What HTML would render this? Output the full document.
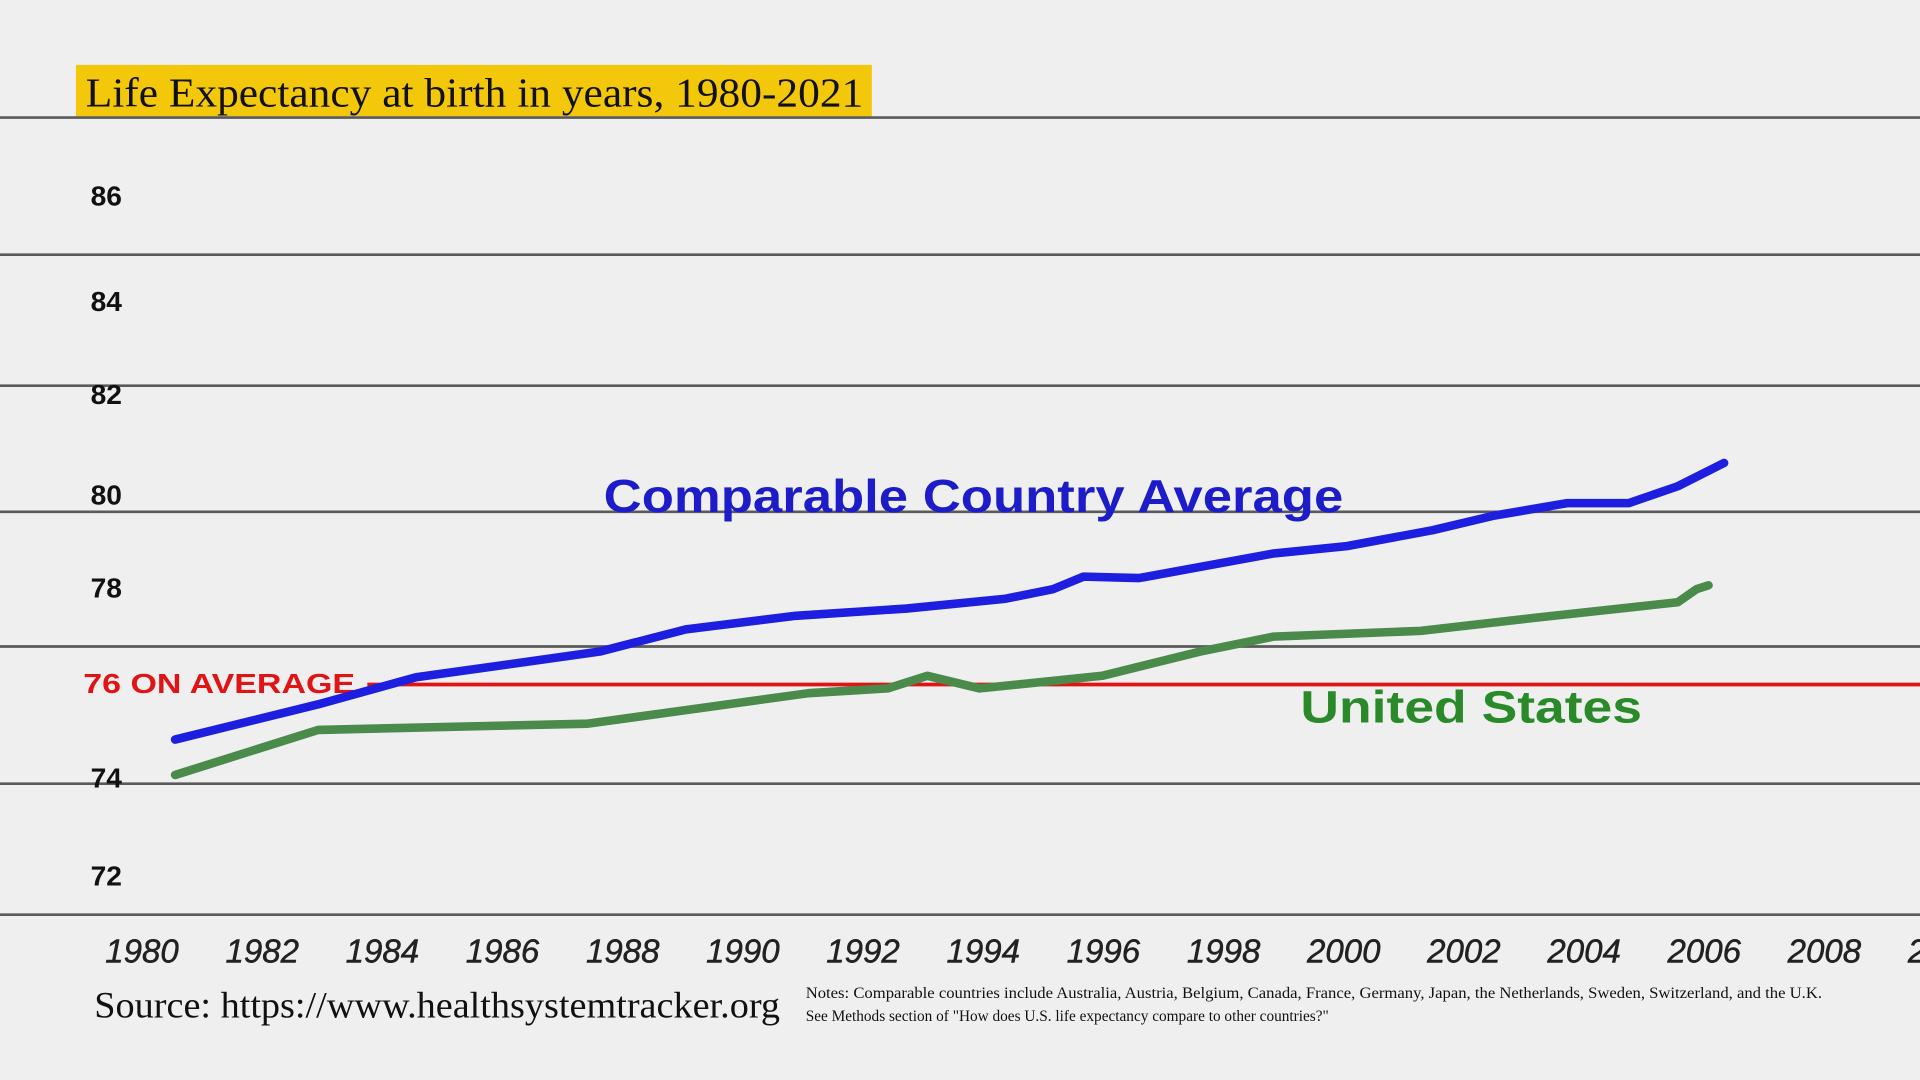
<!DOCTYPE html>
<html><head><meta charset="utf-8">
<style>
html,body{margin:0;padding:0;width:1920px;height:1080px;overflow:hidden;background:#efefef;}
svg{display:block}
</style></head>
<body>
<svg id="chart" width="1920" height="1080" viewBox="0 0 1568 882" preserveAspectRatio="none" xmlns="http://www.w3.org/2000/svg">
<rect x="0" y="0" width="1568" height="882" fill="#efefef"/>
<rect x="62" y="53" width="650" height="42" fill="#f3c70a"/>
<text x="70" y="87" font-family="Liberation Serif, serif" font-size="34" fill="#111" textLength="635" lengthAdjust="spacingAndGlyphs">Life Expectancy at birth in years, 1980-2021</text>
<g id="grid"></g>
<g id="ylabels"></g>
<g id="xlabels"></g>
<line x1="300" y1="559" x2="1568" y2="559" stroke="#e01414" stroke-width="3"/>
<text x="68" y="566" font-family="Liberation Sans, sans-serif" font-weight="bold" font-size="23" fill="#e01414" textLength="222" lengthAdjust="spacingAndGlyphs">76 ON AVERAGE</text>
<g id="series"></g>
<text x="493" y="418" font-family="Liberation Sans, sans-serif" font-weight="bold" font-size="38" fill="#1c1cc8" textLength="604" lengthAdjust="spacingAndGlyphs">Comparable Country Average</text>
<text x="1062" y="590" font-family="Liberation Sans, sans-serif" font-weight="bold" font-size="37" fill="#2a8a2a" textLength="279" lengthAdjust="spacingAndGlyphs">United States</text>
<text x="77" y="831" font-family="Liberation Serif, serif" font-size="30" fill="#111" textLength="560" lengthAdjust="spacingAndGlyphs">Source: https://www.healthsystemtracker.org</text>
<text x="658" y="815" font-family="Liberation Serif, serif" font-size="12.5" fill="#111" textLength="830" lengthAdjust="spacingAndGlyphs">Notes: Comparable countries include Australia, Austria, Belgium, Canada, France, Germany, Japan, the Netherlands, Sweden, Switzerland, and the U.K.</text>
<text x="658" y="834" font-family="Liberation Serif, serif" font-size="12.5" fill="#111">See Methods section of "How does U.S. life expectancy compare to other countries?"</text>
</svg>
<script>
const gridYs = [96, 208, 315, 418, 528, 640, 747];
const yTicks = [86, 84, 82, 80, 78, 74, 72];
const xTicks = [1980,1982,1984,1986,1988,1990,1992,1994,1996,1998,2000,2002,2004,2006,2008,2010];
const ccYears = [1980.55,1982.93,1984.56,1987.62,1989.05,1990.88,1992.72,1994.35,1995.16,1995.67,1996.59,1998.83,2000.05,2001.48,2002.5,2003.72,2004.74,2005.56,2006.33];
const ccValues = [74.86,75.59,76.15,76.68,77.14,77.42,77.57,77.77,77.97,78.23,78.20,78.71,78.86,79.19,79.49,79.75,79.75,80.10,80.58];
const usYears = [1980.55,1982.93,1987.42,1989.05,1991.09,1992.41,1993.07,1993.94,1995.98,1997.61,1998.83,2001.28,2003.11,2005.56,2005.87,2006.07];
const usValues = [74.13,75.06,75.19,75.47,75.82,75.92,76.18,75.92,76.18,76.68,76.99,77.11,77.37,77.70,77.97,78.05];
const yLabelPos = {86:160,84:246,82:322,80:404,78:480,74:635,72:715};

const NS='http://www.w3.org/2000/svg';
function xScale(yr){return 116+(yr-1980)*49.07;}
function yScale(v){return 559-(v-76)*39.5;}
function mk(tag,attrs,parent){const e=document.createElementNS(NS,tag);for(const k in attrs)e.setAttribute(k,attrs[k]);parent.appendChild(e);return e;}

const grid=document.getElementById('grid');
gridYs.forEach(y=>{
  const l=mk('line',{x1:0,x2:1568,y1:y,y2:y,stroke:'#5a5a5a','stroke-width':2.2},grid);
  
  
});
const yl=document.getElementById('ylabels');
yTicks.forEach(v=>{
  const t=mk('text',{x:74,y:yLabelPos[v]+8,'font-family':'Liberation Sans, sans-serif','font-weight':'bold','font-size':23,fill:'#111'},yl);
  t.textContent=v;
  
  
});
const xl=document.getElementById('xlabels');
xTicks.forEach(yr=>{
  const t=mk('text',{x:xScale(yr),y:786,'text-anchor':'middle','font-family':'Liberation Sans, sans-serif','font-style':'italic','font-size':27,fill:'#222','stroke':'#222','stroke-width':0.4},xl);
  t.textContent=yr;
  
  
});
const sg=document.getElementById('series');
function path(xs,vs,color,name){
  const d=xs.map((x,i)=>(i?'L':'M')+xScale(x).toFixed(1)+','+yScale(vs[i]).toFixed(1)).join(' ');
  const p=mk('path',{d:d,fill:'none',stroke:color,'stroke-width':7,'stroke-linejoin':'round','stroke-linecap':'round'},sg);
  
  
}
path(usYears,usValues,'#4a8a4a','us-line');
path(ccYears,ccValues,'#1e1ee0','comparable-country-line');
</script>
</body></html>
